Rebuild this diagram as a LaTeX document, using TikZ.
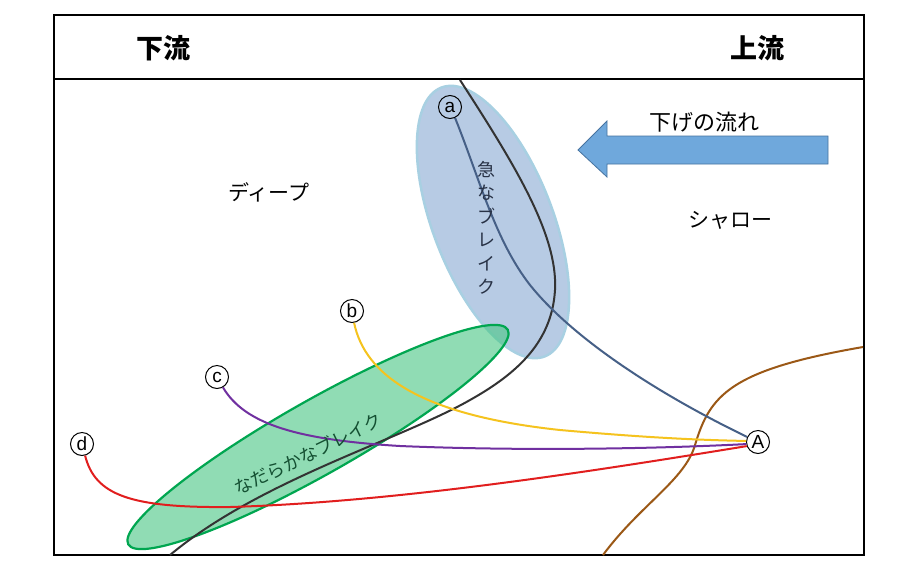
\documentclass[tikz,border=0pt]{standalone}
\usepackage{fontspec}
\setmainfont{Liberation Sans}
\newfontfamily\jp{Noto Sans CJK JP}
\definecolor{ellblue}{RGB}{183,203,228}
\definecolor{ellblueb}{RGB}{168,208,226}
\definecolor{ellgreen}{RGB}{70,198,130}
\definecolor{ellgreenb}{RGB}{0,166,80}
\definecolor{arrowblue}{RGB}{111,168,220}
\definecolor{arrowblueb}{RGB}{70,115,160}
\definecolor{lineA}{RGB}{70,96,135}
\definecolor{lineB}{RGB}{245,195,30}
\definecolor{lineC}{RGB}{112,48,160}
\definecolor{lineD}{RGB}{225,30,30}
\definecolor{brownline}{RGB}{155,88,22}
\definecolor{darkgreentext}{RGB}{20,80,50}
\definecolor{darkbluetext}{RGB}{40,50,70}
\begin{document}
\begin{tikzpicture}[x=1pt,y=-1pt,
  lbl/.style={circle,draw,line width=1pt,minimum size=23pt,inner sep=0pt,font=\fontsize{19}{19}\selectfont},
  jptext/.style={font=\jp\fontsize{21}{24}\selectfont,inner sep=0pt},
  curve/.style={line width=2pt}]
\fill[white] (0,0) rectangle (920,571);
\useasboundingbox (0,0) rectangle (920,571);
% ellipses
\begin{scope}[shift={(493,222)},rotate=-69]
  \fill[ellblue] (0,0) ellipse [x radius=144pt, y radius=60pt];
  \draw[ellblueb,line width=2.5pt] (0,0) ellipse [x radius=144pt, y radius=60pt];
\end{scope}
\begin{scope}[shift={(318,437)},rotate=29.5]
  \fill[ellgreen,fill opacity=0.6] (0,0) ellipse [x radius=218pt, y radius=37pt];
  \draw[ellgreenb,line width=2.2pt] (0,0) ellipse [x radius=218pt, y radius=37pt];
\end{scope}
% frame
\draw[line width=1.3pt] (54,15) rectangle (864,555);
\draw[line width=1.3pt] (54,79) -- (864,79);
% header
\node[jptext,font=\jp\bfseries\fontsize{27}{30}\selectfont] (down) at (163,48) {下流};
\node[jptext,font=\jp\bfseries\fontsize{27}{30}\selectfont] (up) at (757,48) {上流};
% river curves
\draw[curve,black!80] (460,80) .. controls (515,165) and (558,235) .. (555,290)
   .. controls (552,340) and (520,372) .. (470,400)
   .. controls (400,440) and (260,480) .. (170,555);
\draw[curve,brownline] (603,555) .. controls (640,505) and (685,480) .. (695,445)
   .. controls (710,395) and (730,370) .. (863,347);
% labels
\node[lbl] (a) at (450,107) {a};
\node[lbl] (b) at (352,311) {b};
\node[lbl] (c) at (217,377) {c};
\node[lbl] (d) at (82,444) {d};
\node[lbl] (A) at (758,442) {A};
% lines
\draw[curve,lineA] (a.-65) .. controls (480,180) and (495,240) .. (530,285)
   .. controls (570,335) and (650,390) .. (A.155);
\draw[curve,lineB] (b.-80) .. controls (365,375) and (420,415) .. (560,430)
   .. controls (650,438) and (700,440) .. (A.175);
\draw[curve,lineC] (c.-60) .. controls (245,425) and (300,440) .. (400,446)
   .. controls (520,451) and (650,449) .. (A.190);
\draw[curve,lineD] (d.-75) .. controls (95,495) and (130,508) .. (230,507)
   .. controls (400,502) and (600,470) .. (A.200);
% texts
\node[jptext] (deep) at (269,192) {ディープ};
\node[jptext] (shallow) at (730,220) {シャロー};
\node[jptext,font=\jp\fontsize{22}{24}\selectfont] (flow) at (704,122) {下げの流れ};
\node[inner sep=0pt,align=center,text=darkbluetext,font=\jp\fontsize{18}{23.5}\selectfont] (steep) at (486,228) {急\\な\\ブ\\レ\\イ\\ク};
\node[inner sep=0pt,rotate=26,text=darkgreentext,font=\jp\fontsize{18}{20}\selectfont] (gentle) at (308,454) {なだらかなブレイク};
% arrow
\draw[fill=arrowblue,draw=arrowblueb,line width=0.8pt] (578,150) -- (607,121) -- (607,136) -- (828,136) -- (828,164) -- (607,164) -- (607,177) -- cycle;
\end{tikzpicture}
\end{document}
